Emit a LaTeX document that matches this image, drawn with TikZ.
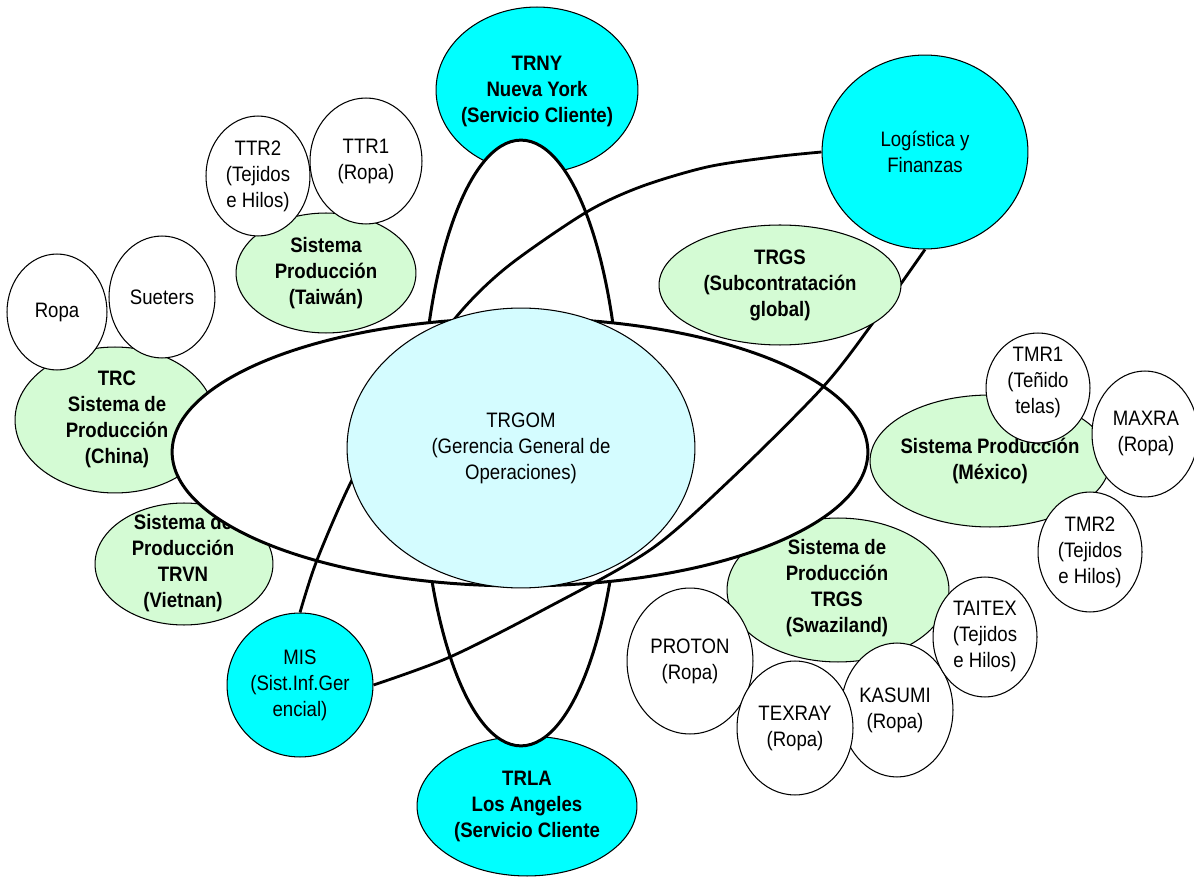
\documentclass[tikz,border=0pt]{standalone}
\usepackage{fontspec}
\setmainfont{Liberation Sans}[FakeStretch=0.89]
\usetikzlibrary{shapes.geometric}
\pgfdeclarelayer{l0}\pgfdeclarelayer{l1}\pgfdeclarelayer{l2}\pgfdeclarelayer{l3}\pgfdeclarelayer{l4}
\pgfsetlayers{l0,l1,l2,l3,l4,main}
\definecolor{cyn}{RGB}{0,255,255}
\definecolor{grn}{RGB}{212,251,212}
\definecolor{lcyn}{RGB}{212,252,255}
\tikzset{
  sz/.style 2 args={minimum width=#1*0.04cm, minimum height=#2*0.04cm},
  shp/.style={ellipse, draw=black, line width=0.6pt, inner sep=0pt},
  cyanE/.style={shp, fill=cyn},
  greenE/.style={shp, fill=grn},
  whiteE/.style={shp, fill=white},
  coreE/.style={shp, fill=lcyn},
  ring/.style={ellipse, draw=black, line width=1.7pt, fill=white, inner sep=0pt},
  branch/.style={draw=black, line width=1.6pt},
  lbl/.style={align=center, inner sep=0pt, font=\fontsize{11.9}{14.8}\selectfont},
  blbl/.style={lbl, font=\fontsize{11.9}{14.8}\selectfont\bfseries}
}
\begin{document}
\begin{tikzpicture}[x=0.02cm,y=-0.02cm]
\useasboundingbox (0,0) rectangle (1194,878);
\begin{pgfonlayer}{l0}
  \node[cyanE,sz={101}{83}] (trny) at (537,90) {};
  \node[blbl] (trny-t) at (537,91) {TRNY\\Nueva York\\(Servicio Cliente)};
  \node[cyanE,sz={110}{70}] (trla) at (527,806) {};
  \node[blbl] (trla-t) at (527,806) {TRLA\\Los Angeles\\(Servicio Cliente};
\end{pgfonlayer}
\begin{pgfonlayer}{l1}
  \node[ring,sz={100}{303}] (vring) at (521,443) {};
\end{pgfonlayer}
\begin{pgfonlayer}{l2}
  \node[greenE,sz={100}{73}] (trc) at (115,420) {};
  \node[blbl] (trc-t) at (117,419) {TRC\\Sistema de\\Producción\\(China)};
  \node[greenE,sz={89}{61}] (trvn) at (184,564) {};
  \node[blbl] (trvn-t) at (183,563) {Sistema de\\Producción\\TRVN\\(Vietnan)};
  \node[greenE,sz={111}{72}] (swz) at (838,590) {};
  \node[blbl] (swz-t) at (837,588) {Sistema de\\Producción\\TRGS\\(Swaziland)};
\end{pgfonlayer}
\begin{pgfonlayer}{l3}
  \node[ring,sz={348}{134}] (hring) at (520,452) {};
\end{pgfonlayer}
% main layer
\node[coreE,sz={174}{140}] (trgom) at (521,448) {};
\node[lbl] (trgom-t) at (521,448) {TRGOM\\(Gerencia General de\\Operaciones)};
\node[greenE,sz={121}{60}] (trgs) at (780,285) {};
\node[blbl] (trgs-t) at (780,285) {TRGS\\(Subcontratación\\global)};
\node[greenE,sz={90}{60}] (tw) at (326,273) {};
\node[blbl] (tw-t) at (326,273) {Sistema\\Producción\\(Taiwán)};
\node[whiteE,sz={52}{60}] (ttr2) at (258,176) {};
\node[lbl] (ttr2-t) at (258,176) {TTR2\\(Tejidos\\e Hilos)};
\node[whiteE,sz={56}{63}] (ttr1) at (366,161) {};
\node[lbl] (ttr1-t) at (366,161) {TTR1\\(Ropa)};
\node[whiteE,sz={50}{58}] (ropa) at (57,312) {};
\node[lbl] (ropa-t) at (57,312) {Ropa};
\node[whiteE,sz={53}{61}] (sue) at (162,297) {};
\node[lbl] (sue-t) at (162,297) {Sueters};
\node[greenE,sz={120}{66}] (mx) at (990,461) {};
\node[blbl] (mx-t) at (990,461) {Sistema Producción\\(México)};
\node[whiteE,sz={52}{55}] (tmr1) at (1038,388) {};
\node[lbl] (tmr1-t) at (1038,382) {TMR1\\(Teñido\\telas)};
\node[whiteE,sz={53}{63}] (maxra) at (1145,434) {};
\node[lbl] (maxra-t) at (1146,433) {MAXRA\\(Ropa)};
\node[whiteE,sz={52}{60}] (tmr2) at (1090,552) {};
\node[lbl] (tmr2-t) at (1090,552) {TMR2\\(Tejidos\\e Hilos)};
\node[whiteE,sz={63}{73}] (proton) at (690,661) {};
\node[lbl] (proton-t) at (690,661) {PROTON\\(Ropa)};
\node[whiteE,sz={56}{67}] (kasumi) at (897,710) {};
\node[lbl] (kasumi-t) at (895,710) {KASUMI\\(Ropa)};
\node[whiteE,sz={58}{67}] (texray) at (795,728) {};
\node[lbl] (texray-t) at (795,728) {TEXRAY\\(Ropa)};
\node[whiteE,sz={52}{60}] (taitex) at (985,637) {};
\node[lbl] (taitex-t) at (985,636) {TAITEX\\(Tejidos\\e Hilos)};
\node[cyanE,sz={73}{72}] (mis) at (300,685) {};
\node[lbl] (mis-t) at (300,685) {MIS\\(Sist.Inf.Ger\\encial)};
\node[cyanE,sz={103}{97}] (log) at (925,152) {};
\node[lbl] (log-t) at (925,152) {Logística y\\Finanzas};
\begin{pgfonlayer}{l4}
  \draw[branch] plot[smooth] coordinates {(mis.north) (317,560) (352,480) (400,395) (457,316) (507,267) (585,213) (640,187) (707,167) (773,157) (log.west)};
  \draw[branch] plot[smooth] coordinates {(mis.east) (450,657) (543,610) (650,550) (730,480) (823,387) (875,320) (log.south)};
\end{pgfonlayer}
\end{tikzpicture}
\end{document}
